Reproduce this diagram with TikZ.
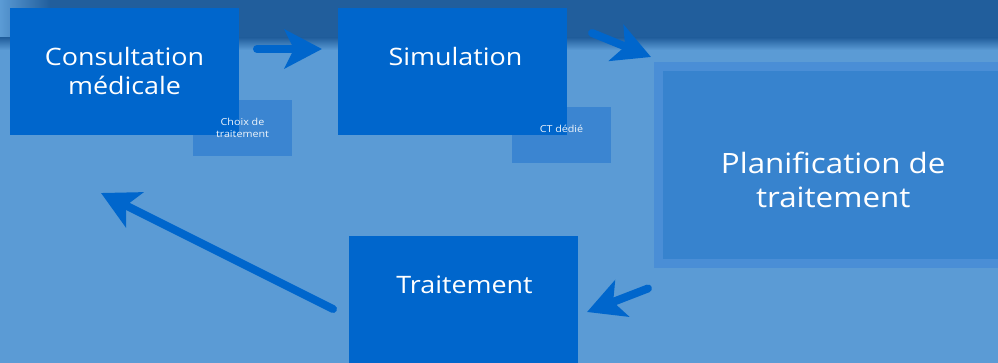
\documentclass[tikz,border=0pt]{standalone}
\usepackage{fontspec}
\setmainfont[FakeStretch=1.12]{Open Sans}
\usetikzlibrary{arrows.meta, positioning, calc}

\definecolor{bgblue}{HTML}{5B9BD5}
\definecolor{bandblue}{HTML}{215E9C}
\definecolor{stepblue}{HTML}{0066CC}
\definecolor{noteblue}{HTML}{3B85D1}
\definecolor{planblue}{HTML}{3783CE}
\definecolor{planedge}{HTML}{4A8ED6}

\tikzset{
  stepbox/.style={fill=stepblue, minimum width=171.75pt, minimum height=95.25pt,
    anchor=north west, inner sep=0pt, outer sep=0pt},
  notebox/.style={fill=noteblue, minimum width=74.25pt, minimum height=42pt,
    anchor=north west, inner sep=0pt, outer sep=0pt},
  steptext/.style={text=white, font=\fontsize{18}{21.75}\selectfont, align=center, inner sep=0pt},
  notetext/.style={text=white!92!noteblue, font=\fontsize{7.2}{9.5}\selectfont, align=center, inner sep=0pt},
  flow/.style={draw=stepblue, line width=6pt, line cap=round,
    -{Stealth[length=28pt, width=29pt, inset=7pt]}},
}

\begin{document}
\begin{tikzpicture}[x=0.75pt, y=-0.75pt]
\useasboundingbox (0,0) rectangle (998,363);

% Background
\fill[bgblue] (0,0) rectangle (998,363);
\fill[bandblue] (50,0) rectangle (998,38);
\shade[left color=bgblue, right color=bandblue] (0,0) rectangle (50,38);
\shade[top color=bandblue, bottom color=bgblue] (0,37.5) rectangle (998,50);

% Notes (behind the steps)
\node[notebox] (choix) at (193,100) {};
\node[notebox] (ct) at (512,107) {};

% Steps
\node[stepbox] (consult) at (10,8) {};
\node[stepbox] (sim) at (338,8) {};
\node[stepbox] (treat) at (349,236) {};
\node[draw=planedge, fill=planblue, line width=6.75pt, minimum width=263.6pt,
  minimum height=148.1pt, anchor=north west, inner sep=0pt, outer sep=0pt] (plan) at (658.5,66.5) {};

% Labels
\node[steptext] (consulttxt) at (consult.center) {Consultation\\médicale};
\node[steptext] (simtxt) at ($(sim.north)+(3,49)$) {Simulation};
\node[steptext] (treattxt) at ($(treat.north)+(1,49)$) {Traitement};
\node[steptext, font=\fontsize{21}{25.5}\selectfont] (plantxt) at ($(plan.center)+(-1,15)$) {Planification de\\traitement};
\node[notetext] (choixtxt) at (choix.center) {Choix de\\traitement};
\node[notetext] (cttxt) at ($(ct.center)+(0,-6)$) {CT dédié};

% Flow
\draw[flow] ($(consult.east)+(18,-22.5)$) -- ($(sim.west)+(-16,-22.5)$);
\draw[flow] ($(sim.north east)+(25,25)$) -- ($(plan.north west)+(-7.5,-9.5)$);
\draw[flow] ($(plan.south west)+(-10.5,24.5)$) -- ($(treat.east)+(9,12.5)$);
\draw[flow] ($(treat.west)+(-16,9.5)$) -- ($(consult.south)+(-23.5,58)$);
\end{tikzpicture}
\end{document}
